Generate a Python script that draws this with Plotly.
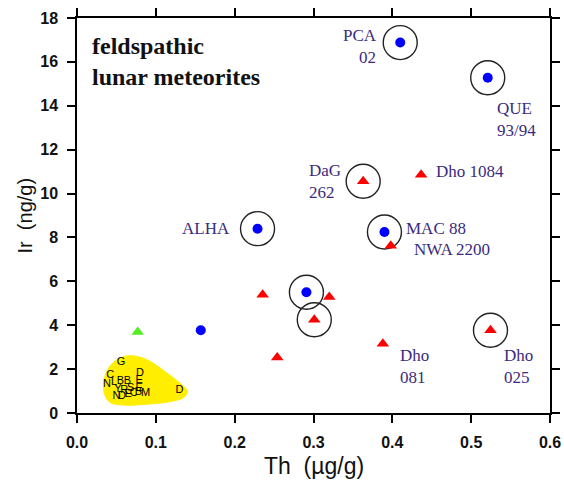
import plotly.graph_objects as go

# ---- data (Th in ug/g, Ir in ng/g) ----
blue_th = [0.410, 0.521, 0.229, 0.390, 0.291, 0.157]
blue_ir = [16.88, 15.28, 8.40, 8.25, 5.50, 3.77]

red_th = [0.363, 0.4365, 0.398, 0.2355, 0.320, 0.301, 0.254, 0.388, 0.5245]
red_ir = [10.56, 10.86, 7.62, 5.39, 5.29, 4.25, 2.53, 3.16, 3.77]

green_th = [0.077]
green_ir = [3.69]

circled_th = [0.410, 0.521, 0.229, 0.390, 0.291, 0.363, 0.301, 0.5245]
circled_ir = [16.88, 15.28, 8.40, 8.25, 5.50, 10.56, 4.25, 3.77]

# yellow field of other feldspathic meteorites
blob_th = [0.034, 0.037, 0.046, 0.060, 0.076, 0.093, 0.113, 0.131, 0.140, 0.136,
           0.118, 0.088, 0.060, 0.042, 0.035, 0.034]
blob_ir = [1.30, 1.85, 2.30, 2.58, 2.58, 2.35, 1.85, 1.35, 1.00, 0.72,
           0.52, 0.40, 0.36, 0.48, 0.85, 1.30]

letter_th = [0.056, 0.042, 0.080, 0.079, 0.038, 0.047, 0.055, 0.064, 0.079, 0.052,
             0.060, 0.068, 0.050, 0.057, 0.065, 0.072, 0.078, 0.087, 0.130]
letter_ir = [2.31, 1.70, 1.80, 1.47, 1.30, 1.42, 1.44, 1.44, 1.15, 1.08,
             1.05, 1.12, 0.78, 0.76, 0.86, 0.90, 0.95, 0.92, 1.02]
letter_txt = ["G", "C", "D", "E", "N", "L", "B", "B", "E", "Y",
              "R", "S", "N", "D", "E", "C", "B", "M", "D"]

# labels: text, anchor point (th, ir), horizontal anchor, pixel offsets
label_txt = ["PCA<br>02", "QUE<br>93/94", "DaG<br>262", "Dho 1084", "ALHA",
             "MAC 88", "NWA 2200", "Dho<br>081", "Dho<br>025"]
label_th = [0.410, 0.521, 0.363, 0.4365, 0.229, 0.390, 0.398, 0.388, 0.5245]
label_ir = [16.88, 15.28, 10.56, 10.86, 8.40, 8.25, 7.62, 3.16, 3.77]
label_anchor = ["right", "left", "left", "left", "right", "left", "left", "left", "left"]
label_align = ["right", "left", "left", "left", "right", "left", "left", "left", "left"]
label_dx = [-21, 7, -56, 13, -26, 20, 21, 15, 12]
label_dy = [-4, -42, 0, 3, 0, 3, -4, -23, -36]

x_ticks = [0.0, 0.1, 0.2, 0.3, 0.4, 0.5, 0.6]
y_ticks = [0, 2, 4, 6, 8, 10, 12, 14, 16, 18]

LABEL_COLOR = "#3a2b7e"

fig = go.Figure()

fig.add_trace(go.Scatter(x=blob_th, y=blob_ir, mode="lines", fill="toself",
                         fillcolor="#ffee00", line=dict(color="#ffee00", width=1,
                         shape="spline", smoothing=1.0),
                         hoverinfo="skip", showlegend=False))
fig.add_trace(go.Scatter(x=letter_th, y=letter_ir, mode="text", text=letter_txt,
                         textfont=dict(family="Liberation Sans", size=11, color="black"),
                         showlegend=False))
fig.add_trace(go.Scatter(x=circled_th, y=circled_ir, mode="markers",
                         marker=dict(symbol="circle-open", size=34, color="#222222",
                                     line=dict(color="#222222", width=1.4)),
                         showlegend=False))
fig.add_trace(go.Scatter(x=blue_th, y=blue_ir, mode="markers",
                         marker=dict(symbol="circle", size=10, color="#0000ff"),
                         showlegend=False))
fig.add_trace(go.Scatter(x=red_th, y=red_ir, mode="markers",
                         marker=dict(symbol="triangle-up", size=11, color="#ff0000"),
                         showlegend=False))
fig.add_trace(go.Scatter(x=green_th, y=green_ir, mode="markers",
                         marker=dict(symbol="triangle-up", size=11, color="#55ee22"),
                         showlegend=False))

for t, x, y, anc, al, dx, dy in zip(label_txt, label_th, label_ir, label_anchor,
                                    label_align, label_dx, label_dy):
    fig.add_annotation(x=x, y=y, xref="x", yref="y", text=t, showarrow=False,
                       xanchor=anc, yanchor="middle", align=al,
                       xshift=dx, yshift=dy,
                       font=dict(family="Liberation Serif", size=17, color=LABEL_COLOR))

fig.add_annotation(x=0.027, y=0.968, xref="paper", yref="paper",
                   text="<b>feldspathic<br>lunar meteorites</b>", showarrow=False,
                   xanchor="left", yanchor="top", align="left",
                   font=dict(family="Liberation Serif", size=24, color="#111111"))

# axis titles
fig.add_annotation(x=0.5, y=-0.134, xref="paper", yref="paper",
                   text="Th  (µg/g)", showarrow=False, xanchor="center", yanchor="middle",
                   font=dict(family="Liberation Sans", size=23, color="#111111"))
fig.add_annotation(x=-0.11, y=0.50, xref="paper", yref="paper", textangle=-90,
                   text="Ir  (ng/g)", showarrow=False, xanchor="center", yanchor="middle",
                   font=dict(family="Liberation Sans", size=20, color="#111111"))

axis_common = dict(showline=True, linecolor="black", linewidth=1.5, mirror="ticks",
                   ticks="outside", ticklen=8, tickwidth=1.5, tickcolor="black",
                   showgrid=False, zeroline=False, automargin=False,
                   tickfont=dict(family="Liberation Sans", size=16, color="#111111",
                                 weight="bold"))

fig.update_xaxes(range=[0, 0.6], tickvals=x_ticks,
                 ticktext=[f"{v:.1f}" for v in x_ticks], ticklabelstandoff=6,
                 **axis_common)
fig.update_yaxes(range=[0, 18], tickvals=y_ticks,
                 ticktext=[str(v) for v in y_ticks], ticklabelstandoff=6,
                 **axis_common)

fig.update_layout(width=564, height=483,
                  margin=dict(l=77, r=14, t=18, b=70, pad=0),
                  plot_bgcolor="white", paper_bgcolor="white",
                  showlegend=False)

fig.write_html("out.html", config={"displayModeBar": False},
               post_script="document.body.style.margin='0';document.body.style.overflow='hidden';")
